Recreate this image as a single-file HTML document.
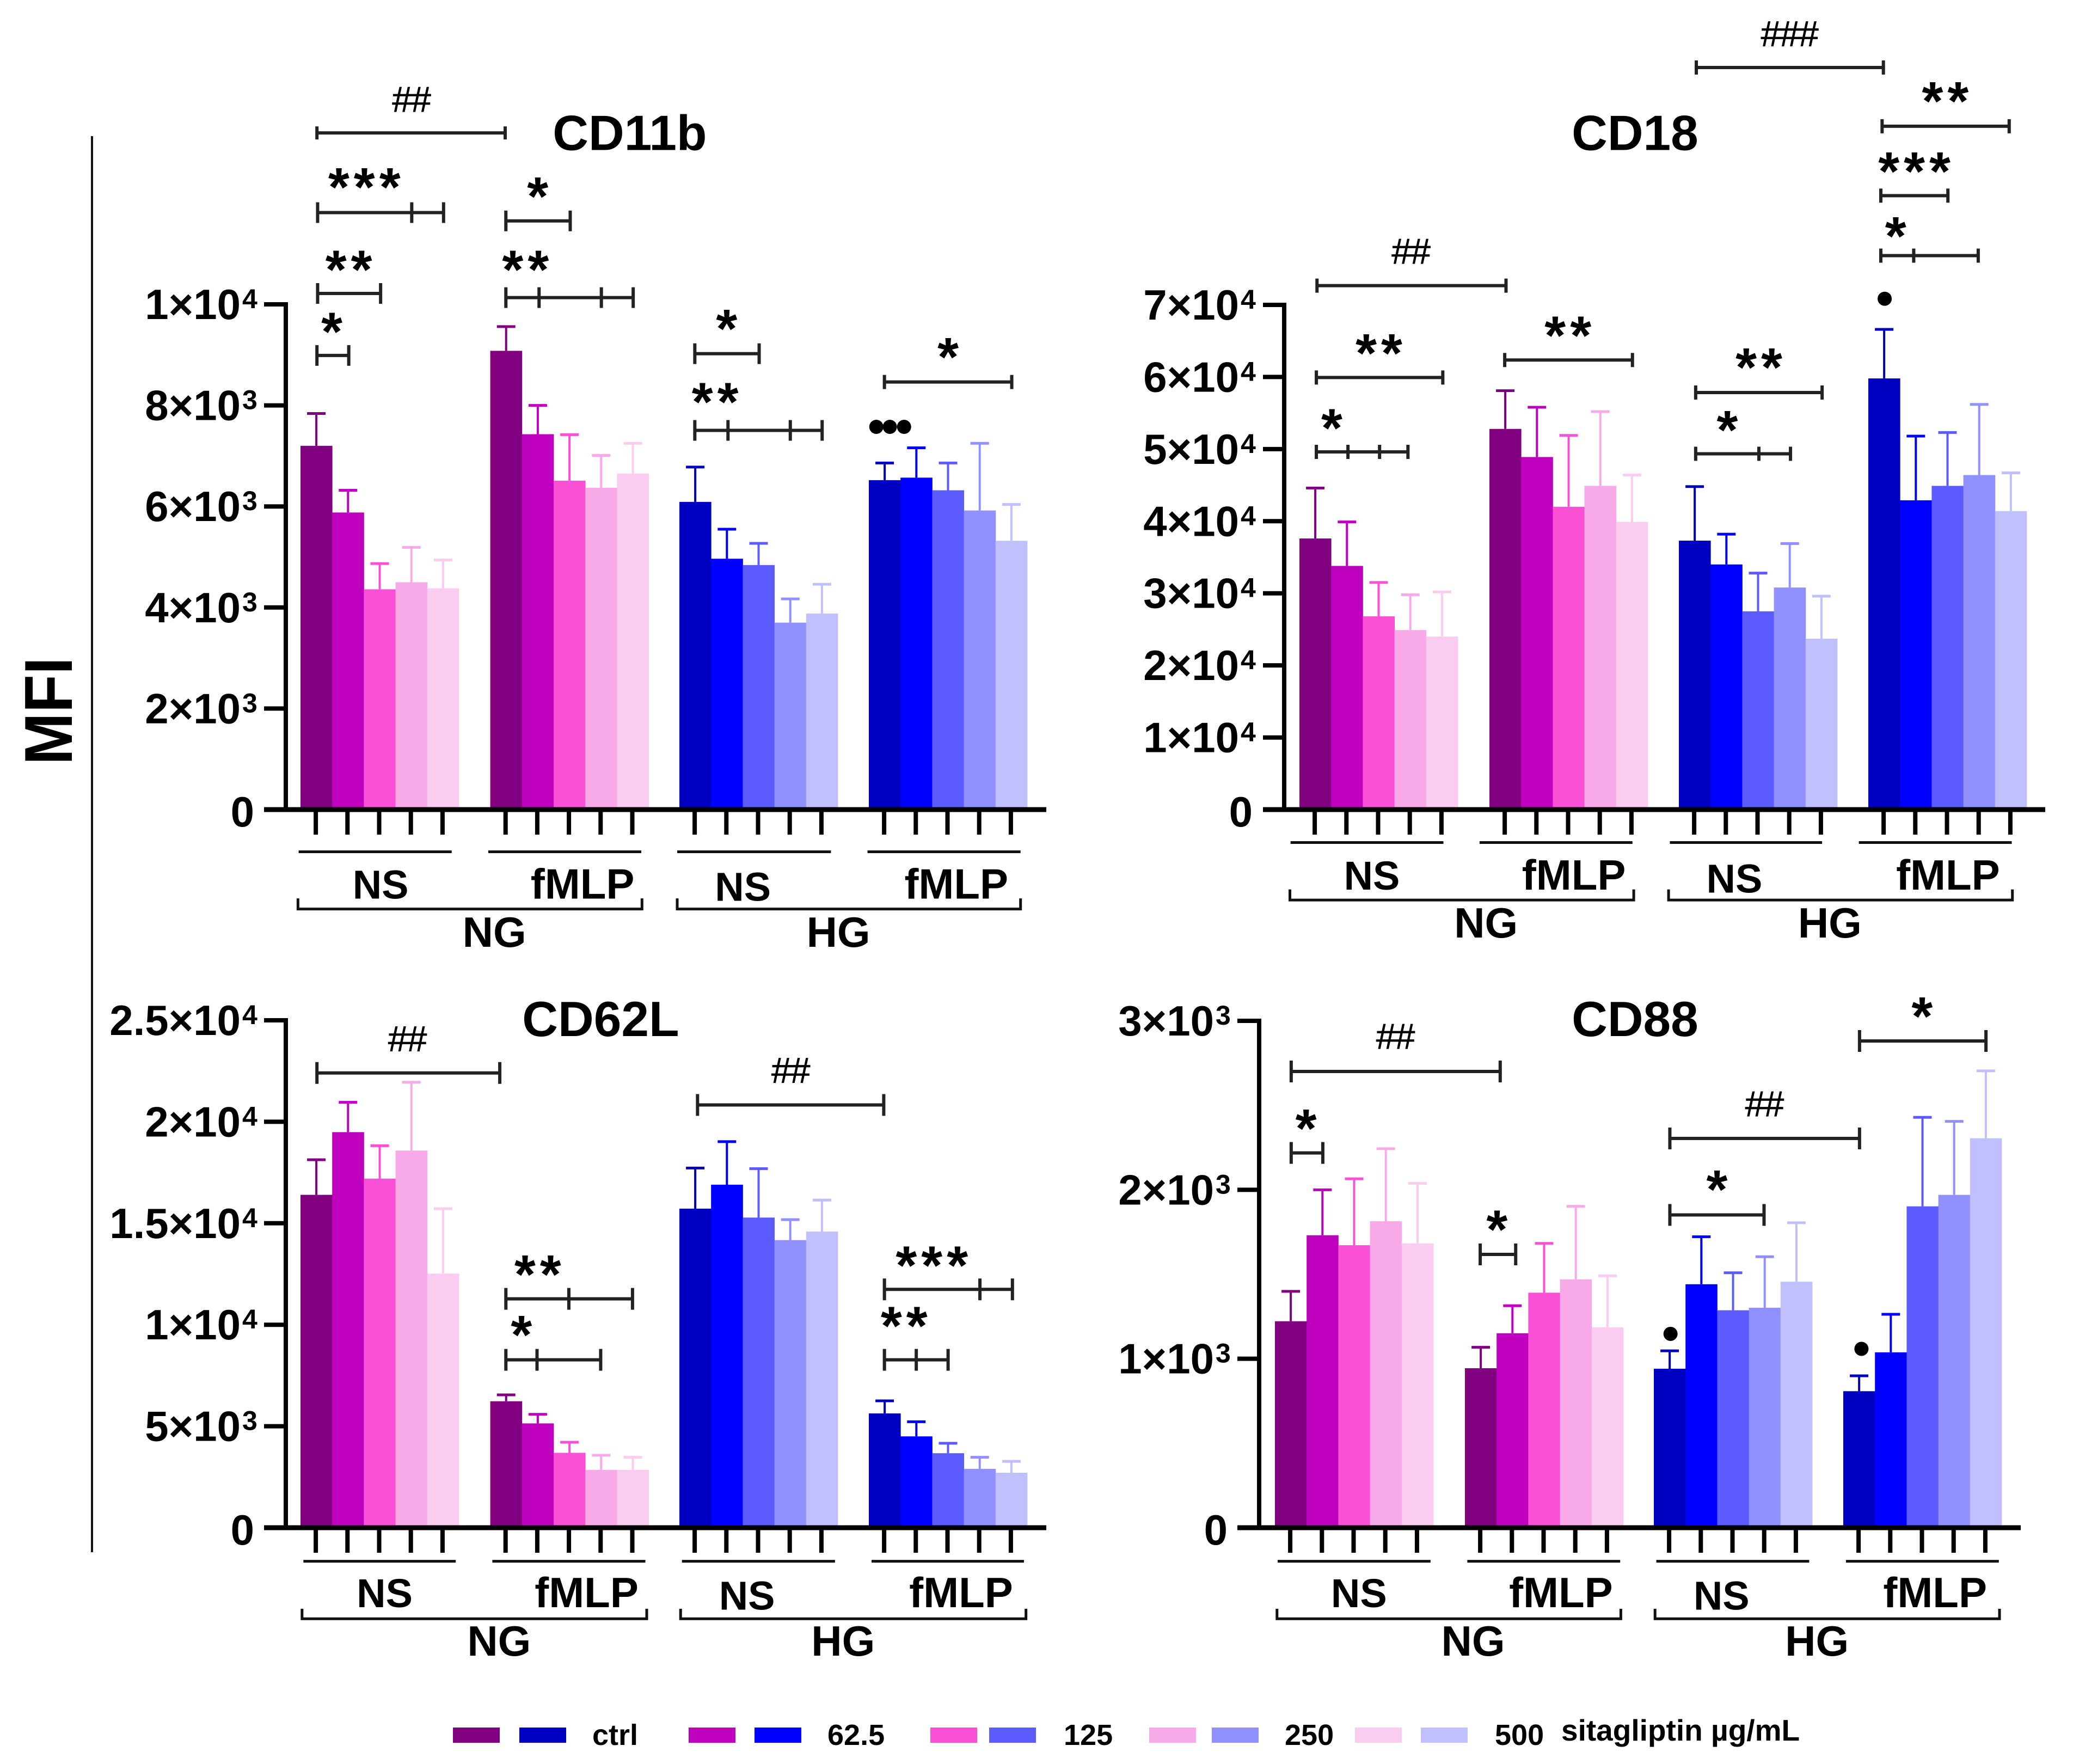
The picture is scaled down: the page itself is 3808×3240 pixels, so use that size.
<!DOCTYPE html>
<html lang="en">
<head>
<meta charset="utf-8">
<title>MFI of CD11b, CD18, CD62L and CD88</title>
<style>
html,body{margin:0;padding:0;background:#fff;}
svg{display:block;}
text{font-family:"Liberation Sans",sans-serif;font-weight:bold;fill:#000;}
</style>
</head>
<body>
<svg id="figure" xmlns="http://www.w3.org/2000/svg" width="3808" height="3240" viewBox="0 0 3808 3240">
<rect x="0" y="0" width="3808" height="3240" fill="#fff"/>
</svg>
<script>
const groups = ['NG-NS', 'NG-fMLP', 'HG-NS', 'HG-fMLP'];
const doses = ['ctrl', '62.5', '125', '250', '500'];

const cd11bTicks = [0, 2000, 4000, 6000, 8000, 10000];
const cd11bMeans = [
  [7200, 5880, 4360, 4500, 4380],
  [9080, 7430, 6510, 6370, 6650],
  [6090, 4965, 4840, 3700, 3880],
  [6520, 6570, 6320, 5920, 5320]
];
const cd11bUpper = [
  [7840, 6320, 4870, 5190, 4940],
  [9560, 8000, 7420, 7010, 7250],
  [6780, 5550, 5270, 4170, 4460],
  [6860, 7160, 6860, 7250, 6040]
];

const cd18Ticks = [0, 10000, 20000, 30000, 40000, 50000, 60000, 70000];
const cd18Means = [
  [37600, 33800, 26800, 24900, 24000],
  [52800, 48900, 42000, 44900, 39900],
  [37300, 34000, 27500, 30800, 23700],
  [59800, 42900, 44900, 46400, 41400]
];
const cd18Upper = [
  [44600, 39900, 31500, 29800, 30200],
  [58100, 55800, 51900, 55200, 46400],
  [44800, 38200, 32800, 36900, 29600],
  [66600, 51800, 52300, 56200, 46700]
];

const cd62lTicks = [0, 5000, 10000, 15000, 20000, 25000];
const cd62lMeans = [
  [16400, 19490, 17200, 18580, 12520],
  [6230, 5140, 3690, 2850, 2850],
  [15720, 16900, 15280, 14170, 14590],
  [5630, 4500, 3670, 2900, 2710]
];
const cd62lUpper = [
  [18130, 20960, 18820, 21950, 15720],
  [6545, 5585, 4210, 3570, 3470],
  [17720, 19020, 17690, 15180, 16140],
  [6250, 5220, 4160, 3470, 3270]
];

const cd88Ticks = [0, 1000, 2000, 3000];
const cd88Means = [
  [1222, 1731, 1672, 1814, 1683],
  [944, 1151, 1391, 1470, 1186],
  [941, 1441, 1287, 1302, 1456],
  [808, 1038, 1902, 1970, 2305]
];
const cd88Upper = [
  [1399, 2000, 2065, 2243, 2038],
  [1068, 1314, 1683, 1902, 1491],
  [1047, 1722, 1509, 1604, 1805],
  [899, 1263, 2429, 2405, 2704]
];

const ngColors = ['#800080', '#bf00bf', '#fa50d5', '#f8aae8', '#faccf0'];
const hgColors = ['#0000c0', '#0000ff', '#5b5bff', '#9090ff', '#c0c0ff'];

const svg = document.getElementById('figure');
const NS = 'http://www.w3.org/2000/svg';

function add(tag, attrs, name, parent) {
  const el = document.createElementNS(NS, tag);
  for (const k in attrs) el.setAttribute(k, attrs[k]);
  
  
  (parent || svg).appendChild(el);
  return el;
}
function line(x1, y1, x2, y2, sw, color, name, parent) {
  return add('line', {x1: x1, y1: y1, x2: x2, y2: y2, stroke: color, 'stroke-width': sw}, name, parent);
}
function text(str, x, y, size, anchor, name, parent, extra) {
  const a = {x: x, y: y, 'font-size': size, 'text-anchor': anchor};
  if (extra) for (const k in extra) a[k] = extra[k];
  const el = add('text', a, name, parent);
  el.textContent = str;
  return el;
}

function Panel(cfg) {
  this.c = cfg;
  this.g = add('g', {}, cfg.name + '-panel');
  this.zx = function (x) { return cfg.ox + x * cfg.fx; };
  this.zy = function (y) { return cfg.oy + y * cfg.fy; };
  this.yScale = function (v) {
    return cfg.baseY - (v / cfg.topVal) * (cfg.baseY - cfg.topY);
  };
  this.xBar = function (g, i) { return cfg.lefts[g] + i * cfg.barW; };
}

function drawBars(P) {
  const c = P.c;
  groups.forEach(function (grp, g) {
    const colors = g < 2 ? ngColors : hgColors;
    doses.forEach(function (dose, i) {
      const x = P.xBar(g, i);
      const yTop = P.yScale(c.means[g][i]);
      const yUp = P.yScale(c.upper[g][i]);
      const cx = x + c.barW / 2;
      add('rect', {x: x, y: yTop, width: c.barW + 0.4, height: c.baseY - yTop, fill: colors[i]},
        c.name + '-bar-' + grp + '-' + dose, P.g);
      line(cx, yTop, cx, yUp, 4, colors[i], c.name + '-error-stem-' + grp + '-' + dose, P.g);
      line(cx - 17, yUp, cx + 17, yUp, 5, colors[i], c.name + '-error-cap-' + grp + '-' + dose, P.g);
    });
  });
}

function drawAxes(P) {
  const c = P.c;
  line(c.axisX, c.topY - 4, c.axisX, c.baseY + 4, 8, '#000', c.name + '-y-axis', P.g);
  line(c.tickLeft, c.baseY, c.right, c.baseY, 9, '#000', c.name + '-x-axis', P.g);
  c.ticks.forEach(function (v) {
    const y = P.yScale(v);
    if (v > 0) line(c.tickLeft, y, c.axisX, y, 8, '#000', c.name + '-y-tick', P.g);
    if (v === 0) {
      text('0', c.axisX - 58, y + 31, 78, 'end', c.name + '-y-label-zero', P.g);
    } else {
      const exp = Math.floor(Math.log10(v) + 1e-9);
      const mant = Math.round(v / Math.pow(10, exp) * 10) / 10;
      text(mant + '×10', c.axisX - 83, y + 27, 78, 'end', c.name + '-y-label', P.g);
      text(String(exp), c.axisX - 80, y + 7, 50, 'start', c.name + '-y-label-exponent', P.g);
    }
  });
  groups.forEach(function (grp, g) {
    doses.forEach(function (dose, i) {
      const cx = P.xBar(g, i) + c.barW / 2 - 1;
      line(cx, c.baseY, cx, c.baseY + 46, 8, '#000', c.name + '-x-tick-' + grp + '-' + dose, P.g);
    });
  });
}

function bar(P, x1, x2, y, half, mids) {
  const X1 = P.zx(x1), X2 = P.zx(x2), Y = P.zy(y);
  const n = P.c.name + '-significance-bracket';
  line(X1, Y, X2, Y, 6, '#222', n, P.g);
  line(X1, Y - half, X1, Y + half, 6, '#222', n + '-end', P.g);
  line(X2, Y - half, X2, Y + half, 6, '#222', n + '-end', P.g);
  (mids || []).forEach(function (m) {
    line(P.zx(m), Y - half, P.zx(m), Y + half, 6, '#222', n + '-mid', P.g);
  });
}
function stars(P, cx, cy, n) {
  const fs = 100;
  text('*'.repeat(n), P.zx(cx) + 4, P.zy(cy) + fs * 0.58 - 10, fs, 'middle',
    P.c.name + '-significance-stars', P.g, {'letter-spacing': 8});
}
function hash(P, cx, baseY, n) {
  text('#'.repeat(n), P.zx(cx), P.zy(baseY) + 2, 66, 'middle', P.c.name + '-hash-marks', P.g,
    {style: 'font-weight:normal', 'letter-spacing': -2, stroke: '#000', 'stroke-width': 0.8});
}
function dot(P, x, y) {
  add('circle', {cx: P.zx(x), cy: P.zy(y), r: 13, fill: '#000'}, P.c.name + '-dot-marker', P.g);
}
function labels(P, z) {
  const n = P.c.name;
  text(P.c.title, P.zx(z.title[0]), P.zy(z.title[1]), 91, 'middle', n + '-title', P.g);
  z.lines.forEach(function (l) {
    line(P.zx(l[0]), P.zy(z.lineY), P.zx(l[1]), P.zy(z.lineY), 5, '#111', n + '-stim-line', P.g);
  });
  z.brackets.forEach(function (b) {
    add('path', {
      d: 'M' + P.zx(b[0]) + ' ' + P.zy(z.brY0) + 'V' + P.zy(z.brY1) + 'H' + P.zx(b[1]) + 'V' + P.zy(z.brY0),
      fill: 'none', stroke: '#111', 'stroke-width': 5
    }, n + '-glucose-bracket', P.g);
  });
  z.ns.forEach(function (s) { text('NS', P.zx(s[0]), P.zy(s[1]) - 2, 74, 'middle', n + '-ns-label', P.g); });
  z.fm.forEach(function (s) { text('fMLP', P.zx(s[0]) - 1, P.zy(s[1]) - 2, 78, 'middle', n + '-fmlp-label', P.g); });
  text('NG', P.zx(z.ng[0]), P.zy(z.ng[1]), 78, 'middle', n + '-ng-label', P.g);
  text('HG', P.zx(z.hg[0]), P.zy(z.hg[1]), 78, 'middle', n + '-hg-label', P.g);
}

/* ---------- CD11b ---------- */
const A = new Panel({name: 'cd11b', title: 'CD11b', ox: 0, oy: 100, fx: 1.244, fy: 1.084,
  axisX: 525, tickLeft: 485, right: 1922, baseY: 1487, topY: 559, topVal: 10000,
  lefts: [552, 900.6, 1248, 1596], barW: 58.2, ticks: cd11bTicks, means: cd11bMeans, upper: cd11bUpper});
drawBars(A); drawAxes(A);
labels(A, {title: [930, 162], lineY: 1351, brY0: 1430, brY1: 1448,
  lines: [[441, 667], [721, 947], [1000, 1227], [1281, 1507]],
  brackets: [[440, 948], [1000, 1507]],
  ns: [[562, 1432], [1097, 1436]], fm: [[861, 1432], [1413, 1432]],
  ng: [730, 1512], hg: [1238, 1512]});
hash(A, 607, 95, 2); bar(A, 468, 746, 133, 12);
stars(A, 538, 212, 3); bar(A, 469, 655, 268, 19, [608]);
stars(A, 794, 228, 1); bar(A, 747, 842, 282, 19);
stars(A, 515, 352, 2); bar(A, 469, 562, 405, 19);
stars(A, 776, 352, 2); bar(A, 747, 935, 412, 19, [796, 888]);
stars(A, 490, 457, 1); bar(A, 468, 515, 510, 19);
stars(A, 1073, 452, 1); bar(A, 1026, 1121, 507, 19);
stars(A, 1056, 576, 2); bar(A, 1026, 1214, 637, 19, [1075, 1167]);
stars(A, 1400, 500, 1); bar(A, 1306, 1494, 555, 13);
dot(A, 1294, 631); dot(A, 1314, 631); dot(A, 1335, 631);

/* ---------- CD18 ---------- */
const B = new Panel({name: 'cd18', title: 'CD18', ox: 1950, oy: 0, fx: 1.185, fy: 1.148,
  axisX: 2359, tickLeft: 2320, right: 3757, baseY: 1487, topY: 560, topVal: 70000,
  lefts: [2387, 2736, 3084, 3432], barW: 58.2, ticks: cd18Ticks, means: cd18Means, upper: cd18Upper});
drawBars(B); drawAxes(B);
labels(B, {title: [889, 240], lineY: 1348, brY0: 1423, brY1: 1440,
  lines: [[355, 592], [648, 885], [943, 1179], [1236, 1473]],
  brackets: [[354, 887], [941, 1474]],
  ns: [[481, 1425], [1043, 1430]], fm: [[795, 1425], [1375, 1425]],
  ng: [658, 1500], hg: [1191, 1500]});
hash(B, 1128, 72, 3); bar(B, 984, 1274, 108, 13);
stars(B, 1370, 150, 2); bar(B, 1272, 1469, 202, 13);
stars(B, 1322, 262, 3); bar(B, 1270, 1374, 313, 13);
stars(B, 1293, 366, 1); bar(B, 1270, 1421, 409, 13, [1321]);
dot(B, 1276, 478);
hash(B, 541, 420, 2); bar(B, 396, 689, 457, 13);
stars(B, 785, 525, 2); bar(B, 687, 885, 576, 13);
stars(B, 492, 553, 2); bar(B, 395, 591, 604, 13);
stars(B, 419, 673, 1); bar(B, 395, 537, 723, 13, [444, 493]);
stars(B, 1081, 576, 2); bar(B, 983, 1179, 628, 13);
stars(B, 1032, 676, 1); bar(B, 983, 1130, 726, 13, [1081]);

/* ---------- CD62L ---------- */
const C = new Panel({name: 'cd62l', title: 'CD62L', ox: 0, oy: 1800, fx: 1.244, fy: 0.918,
  axisX: 525, tickLeft: 485, right: 1922, baseY: 2806, topY: 1874, topVal: 25000,
  lefts: [552, 900.6, 1248, 1596], barW: 58.2, ticks: cd62lTicks, means: cd62lMeans, upper: cd62lUpper});
drawBars(C); drawAxes(C);
labels(C, {title: [887, 112], lineY: 1163, brY0: 1258, brY1: 1278,
  lines: [[448, 673], [727, 953], [1007, 1233], [1287, 1512]],
  brackets: [[446, 955], [1005, 1515]],
  ns: [[568, 1257], [1103, 1262]], fm: [[867, 1257], [1420, 1257]],
  ng: [737, 1352], hg: [1245, 1352]});
hash(C, 601, 140, 2); bar(C, 468, 738, 186, 20);
hash(C, 1167, 203, 2); bar(C, 1030, 1305, 250, 20);
stars(C, 794, 574, 2); bar(C, 747, 934, 638, 20, [840]);
stars(C, 770, 695, 1); bar(C, 747, 887, 760, 20, [793]);
stars(C, 1376, 556, 3); bar(C, 1306, 1495, 619, 20, [1447]);
stars(C, 1335, 677, 2); bar(C, 1306, 1400, 760, 20, [1353]);

/* ---------- CD88 ---------- */
const D = new Panel({name: 'cd88', title: 'CD88', ox: 1950, oy: 1800, fx: 1.185, fy: 0.918,
  axisX: 2313, tickLeft: 2273, right: 3712, baseY: 2806, topY: 1875, topVal: 3000,
  lefts: [2342, 2691, 3038, 3386], barW: 58.2, ticks: cd88Ticks, means: cd88Means, upper: cd88Upper});
drawBars(D); drawAxes(D);
labels(D, {title: [889, 112], lineY: 1163, brY0: 1258, brY1: 1278,
  lines: [[335, 572], [629, 866], [922, 1159], [1216, 1453]],
  brackets: [[334, 867], [920, 1454]],
  ns: [[461, 1257], [1023, 1262]], fm: [[775, 1257], [1355, 1257]],
  ng: [638, 1352], hg: [1171, 1352]});
hash(D, 517, 135, 2); bar(D, 356, 680, 183, 20);
stars(D, 379, 282, 1); bar(D, 356, 405, 346, 20);
stars(D, 675, 484, 1); bar(D, 649, 704, 549, 20);
hash(D, 1089, 270, 2); bar(D, 943, 1237, 317, 20);
stars(D, 1016, 404, 1); bar(D, 943, 1089, 470, 20);
stars(D, 1334, 58, 1); bar(D, 1237, 1433, 122, 20);
dot(D, 944, 708); dot(D, 1240, 738);

/* ---------- Shared ---------- */
line(169, 250, 169, 2851, 4, '#111', 'shared-y-rule');
const mfi = text('MFI', 0, 0, 124, 'middle', 'shared-y-axis-title', svg,
  {transform: 'translate(132 1306) rotate(-90)', textLength: 198, lengthAdjust: 'spacingAndGlyphs'});

const legendG = add('g', {}, 'legend');
const legendPairs = [
  {label: 'ctrl', ng: 832, hg: 954, tx: 1088},
  {label: '62.5', ng: 1265, hg: 1386, tx: 1520},
  {label: '125', ng: 1709, hg: 1817, tx: 1954},
  {label: '250', ng: 2111, hg: 2226, tx: 2360},
  {label: '500', ng: 2489, hg: 2610, tx: 2746}
];
legendPairs.forEach(function (p, i) {
  add('rect', {x: p.ng, y: 3173, width: 86, height: 28, fill: ngColors[i]}, 'legend-swatch-ng-' + p.label, legendG);
  add('rect', {x: p.hg, y: 3173, width: 86, height: 28, fill: hgColors[i]}, 'legend-swatch-hg-' + p.label, legendG);
  text(p.label, p.tx, 3205, 54, 'start', 'legend-label-' + p.label, legendG);
});
text('sitagliptin µg/mL', 2868, 3197, 55, 'start', 'legend-unit-label', legendG);
</script>
</body>
</html>
